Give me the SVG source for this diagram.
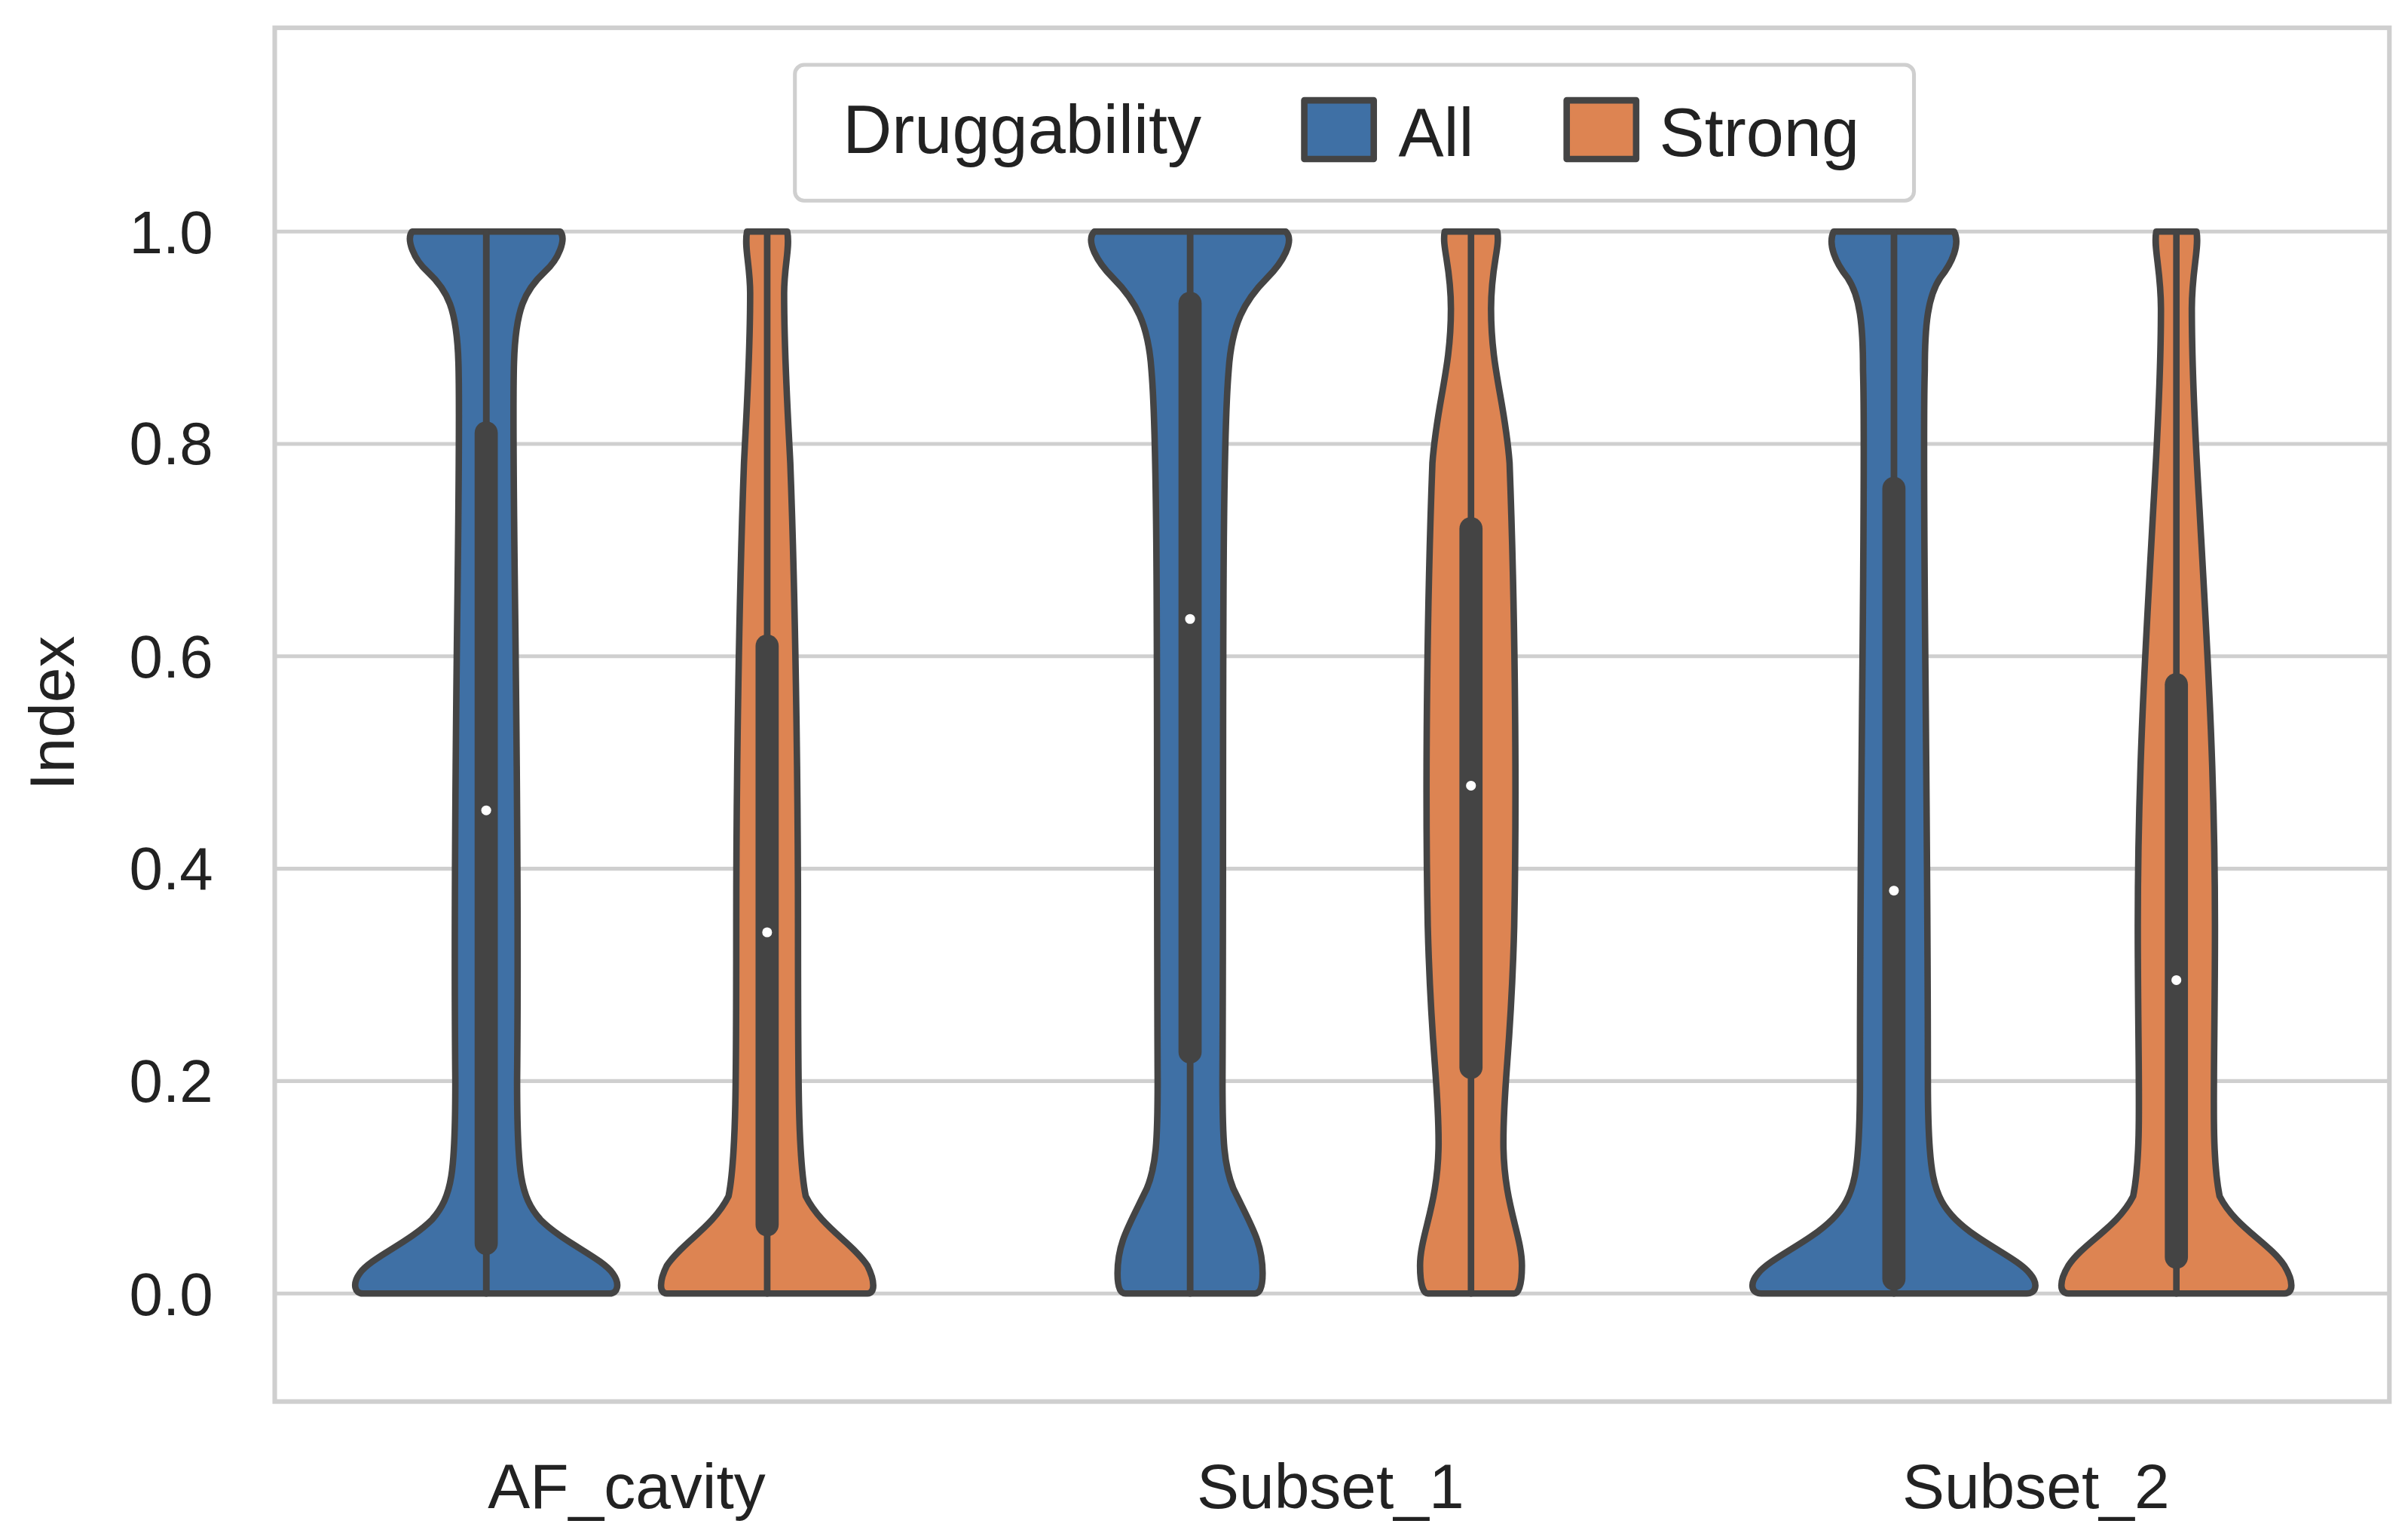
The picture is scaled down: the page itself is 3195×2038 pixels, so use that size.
<svg xmlns="http://www.w3.org/2000/svg" width="3195" height="2038" viewBox="0 0 3195 2038">
<style>
.g{stroke:#cfcfcf;stroke-width:2.5;fill:none}
.v{stroke:#444;stroke-width:4.2;stroke-linejoin:round}
.b{fill:#3f70a5}.o{fill:#dd8452}
.w{stroke:#444;stroke-width:3.5}
.box{fill:#444}
.t{font-family:"Liberation Sans",Arial,sans-serif;fill:#222}
</style>
<rect width="3195" height="2038" fill="#fff"/>
<g transform="scale(2.048)">
<g id="grid">
<line class="g" x1="178" x2="1548" y1="150" y2="150"/>
<line class="g" x1="178" x2="1548" y1="287.6" y2="287.6"/>
<line class="g" x1="178" x2="1548" y1="425.2" y2="425.2"/>
<line class="g" x1="178" x2="1548" y1="562.8" y2="562.8"/>
<line class="g" x1="178" x2="1548" y1="700.4" y2="700.4"/>
<line class="g" x1="178" x2="1548" y1="838" y2="838"/>
<rect x="178" y="18" width="1370" height="890" fill="none" stroke="#cfcfcf" stroke-width="3"/>
</g>
<defs>
<path id="h1" d="M0,150 L48,150 C52,155 47,168 38,176 C25,188 19,200 18,235 C16,300 22,500 20,700 C20,760 22,775 35,790 C50,805 75,815 82,825 C87,832 85,838 80,838 L0,838 Z"/>
<path id="h2" d="M0,150 L13,150 C15,160 11,172 11,190 C11,230 13,260 15,300 C18,380 20,500 20,600 C20,700 20,750 25,775 C35,795 55,805 65,820 C70,830 70,838 65,838 L0,838 Z"/>
<path id="h3" d="M0,150 L62,150 C68,156 60,170 50,180 C35,195 27,210 25,240 C20,300 22,500 21,700 C21,740 22,755 28,770 C40,795 47,805 47,825 C47,835 45,838 42,838 L0,838 Z"/>
<path id="h4" d="M0,150 L17,150 C19,160 13,172 13,200 C13,240 22,260 25,300 C28,380 30,500 28,600 C26,680 21,700 21,740 C21,780 33,800 33,820 C33,832 31,838 28,838 L0,838 Z"/>
<path id="h5" d="M0,150 L39,150 C43,158 38,170 30,180 C22,192 20,210 20,240 C18,300 22,500 22,700 C22,760 25,775 40,790 C55,805 80,815 88,825 C94,832 92,838 86,838 L0,838 Z"/>
<path id="h6" d="M0,150 L13,150 C15,160 10,175 10,200 C10,240 12,280 15,330 C20,420 25,500 25,600 C25,700 22,745 28,775 C38,795 60,805 70,820 C76,830 76,838 70,838 L0,838 Z"/>
</defs>
<g id="v1" transform="translate(315,0)">
<use href="#h1" class="v b"/><use href="#h1" class="v b" transform="scale(-1,1)"/>
<line class="w" x1="0" x2="0" y1="150" y2="838"/>
<rect class="box" x="-7.5" y="273" width="15" height="540" rx="7.5"/>
<circle cx="0" cy="525" r="3.2" fill="#fff"/>
</g>
<g id="v2" transform="translate(497,0)">
<use href="#h2" class="v o"/><use href="#h2" class="v o" transform="scale(-1,1)"/>
<line class="w" x1="0" x2="0" y1="150" y2="838"/>
<rect class="box" x="-7.5" y="411" width="15" height="390" rx="7.5"/>
<circle cx="0" cy="604" r="3.2" fill="#fff"/>
</g>
<g id="v3" transform="translate(771,0)">
<use href="#h3" class="v b"/><use href="#h3" class="v b" transform="scale(-1,1)"/>
<line class="w" x1="0" x2="0" y1="150" y2="838"/>
<rect class="box" x="-7.5" y="189" width="15" height="500" rx="7.5"/>
<circle cx="0" cy="401" r="3.2" fill="#fff"/>
</g>
<g id="v4" transform="translate(953,0)">
<use href="#h4" class="v o"/><use href="#h4" class="v o" transform="scale(-1,1)"/>
<line class="w" x1="0" x2="0" y1="150" y2="838"/>
<rect class="box" x="-7.5" y="335" width="15" height="364" rx="7.5"/>
<circle cx="0" cy="509" r="3.2" fill="#fff"/>
</g>
<g id="v5" transform="translate(1227,0)">
<use href="#h5" class="v b"/><use href="#h5" class="v b" transform="scale(-1,1)"/>
<line class="w" x1="0" x2="0" y1="150" y2="838"/>
<rect class="box" x="-7.5" y="309" width="15" height="527" rx="7.5"/>
<circle cx="0" cy="577" r="3.2" fill="#fff"/>
</g>
<g id="v6" transform="translate(1410,0)">
<use href="#h6" class="v o"/><use href="#h6" class="v o" transform="scale(-1,1)"/>
<line class="w" x1="0" x2="0" y1="150" y2="838"/>
<rect class="box" x="-7.5" y="436" width="15" height="386" rx="7.5"/>
<circle cx="0" cy="635" r="3.2" fill="#fff"/>
</g>
<g id="axes" class="t" font-size="39">
<text x="138" y="164" text-anchor="end">1.0</text>
<text x="138" y="301" text-anchor="end">0.8</text>
<text x="138" y="439" text-anchor="end">0.6</text>
<text x="138" y="576" text-anchor="end">0.4</text>
<text x="138" y="714" text-anchor="end">0.2</text>
<text x="138" y="852" text-anchor="end">0.0</text>
<text transform="translate(48,462) rotate(-90)" text-anchor="middle" font-size="41">Index</text>
<text x="406" y="977" text-anchor="middle" font-size="41">AF_cavity</text>
<text x="862" y="977" text-anchor="middle" font-size="41">Subset_1</text>
<text x="1319" y="977" text-anchor="middle" font-size="41">Subset_2</text>
</g>
<g id="legend">
<rect x="515" y="42" width="725" height="88" rx="6" fill="#fff" stroke="#cfcfcf" stroke-width="2.5"/>
<text class="t" x="546" y="99" font-size="44">Druggability</text>
<rect x="845" y="65" width="45" height="38" class="v b" stroke-width="2.5"/>
<text class="t" x="906" y="101" font-size="44">All</text>
<rect x="1015" y="65" width="45" height="38" class="v o" stroke-width="2.5"/>
<text class="t" x="1075" y="101" font-size="44">Strong</text>
</g>
</g>
</svg>
